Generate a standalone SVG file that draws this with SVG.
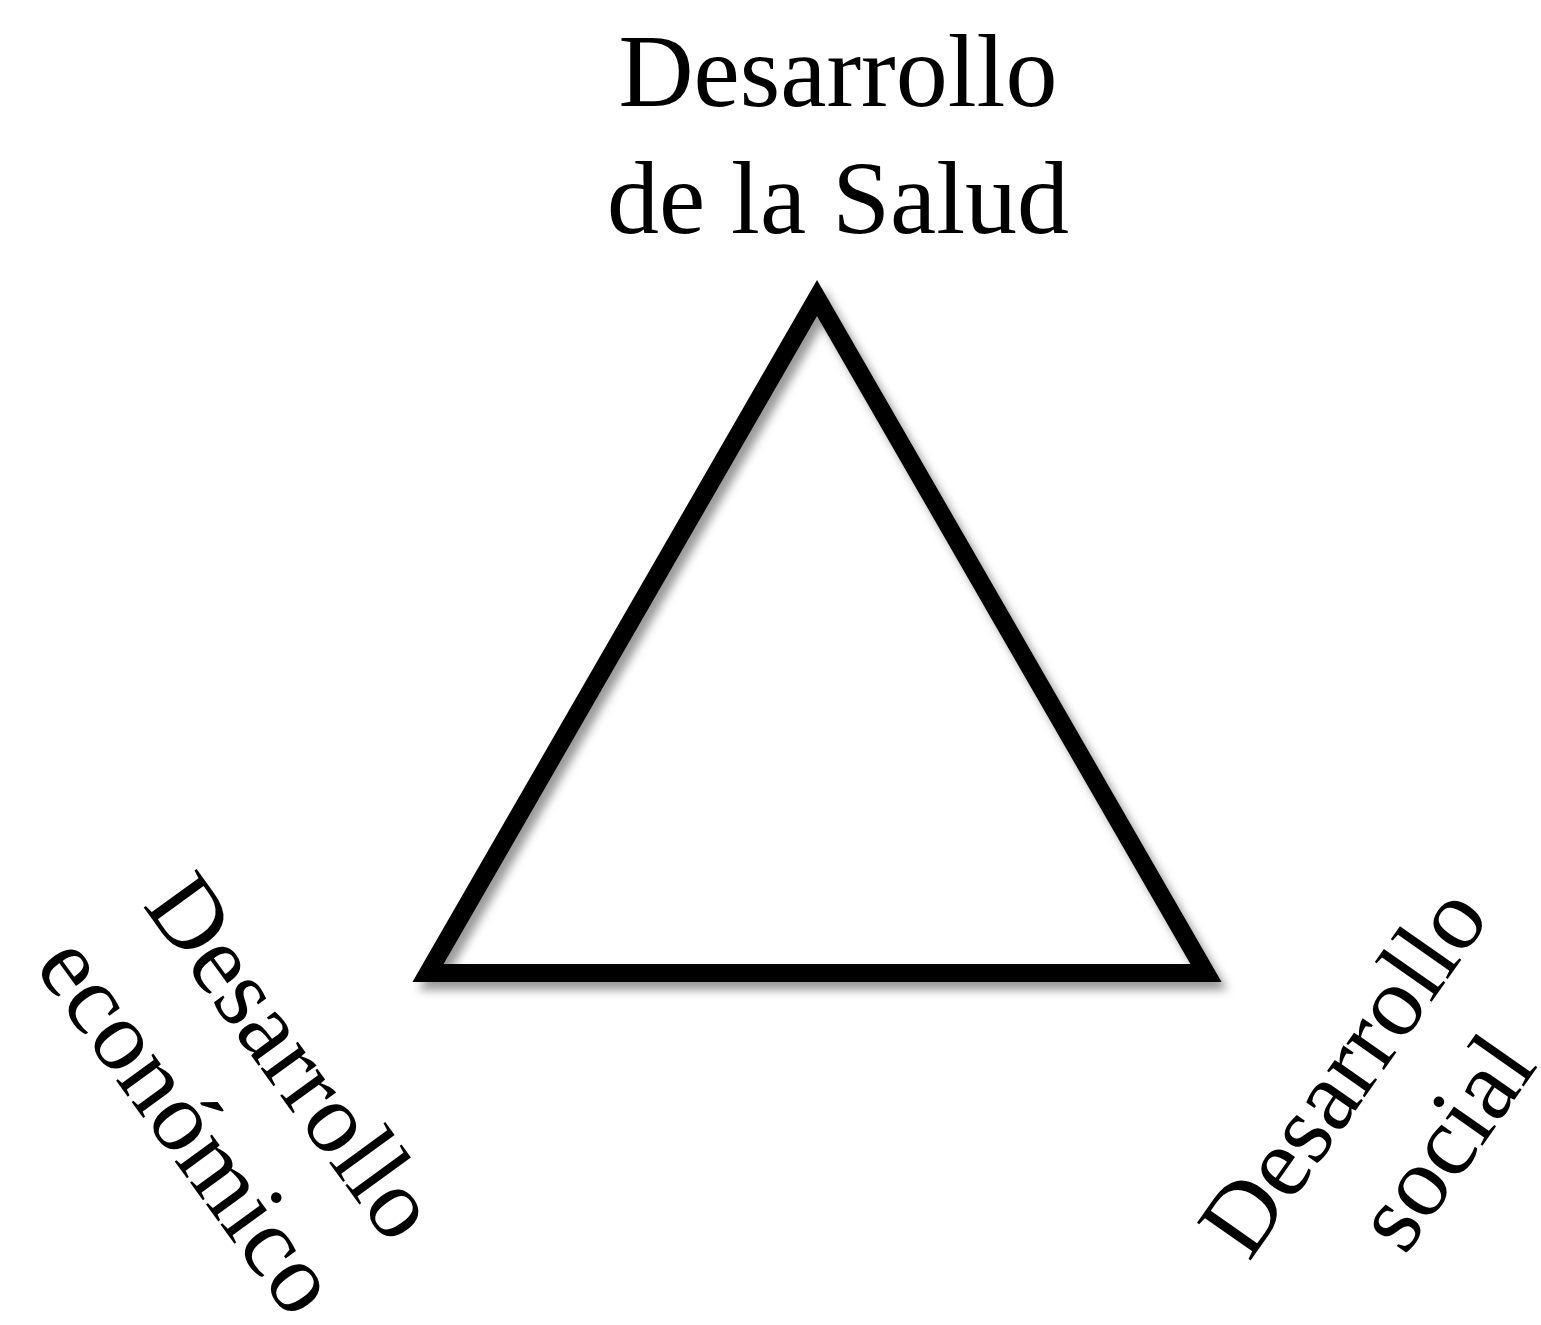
<svg xmlns="http://www.w3.org/2000/svg" width="1541" height="1325" viewBox="0 0 1541 1325">
<style>
.lbl{font-family:"Liberation Serif","Times New Roman",serif;font-size:104px;fill:#000;text-anchor:middle}
.rot{font-size:100px}
</style>
<defs>
<filter id="sh" x="-10%" y="-10%" width="120%" height="120%">
<feDropShadow dx="6" dy="8" stdDeviation="5" flood-color="#000" flood-opacity="0.4"/>
</filter>
</defs>
<rect width="1541" height="1325" fill="#fff"/>
<g id="triangle">
<polygon points="817,298 1206,973 428,973" fill="none" stroke="#000" stroke-width="18" stroke-linejoin="miter" stroke-miterlimit="10" filter="url(#sh)"/>
</g>
<g id="connectors"></g>
<g id="salud">
<text class="lbl"><tspan x="838" y="106">Desarrollo</tspan><tspan x="838" y="233">de la Salud</tspan></text>
</g>
<g id="economico">
<text class="lbl rot" transform="translate(266,1076) rotate(54)"><tspan x="0" y="0">Desarrollo</tspan><tspan x="-6" y="124">económico</tspan></text>
</g>
<g id="social">
<text class="lbl rot" transform="translate(1370,1090) rotate(-55)"><tspan x="0" y="0">Desarrollo</tspan><tspan x="0" y="124">social</tspan></text>
</g>
</svg>
